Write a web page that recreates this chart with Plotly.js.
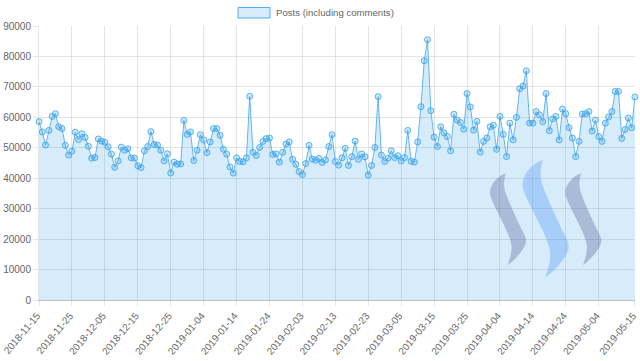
<!DOCTYPE html>
<html>
<head>
<meta charset="utf-8">
<script src="https://cdn.plot.ly/plotly-3.0.1.min.js"></script>
<style>html,body{margin:0;padding:0;background:#fff}#chart{width:640px;height:361px}</style>
</head>
<body>
<div id="chart"></div>
<script>
const seriesName = 'Posts (including comments)';
const startDate = '2018-11-15';
const endPad = '2019-05-15 00:20';
const posts = [
58600,55200,50900,55700,60300,61200,56900,56300,50800,47600,
48900,55100,52700,54600,53400,50500,46600,46800,52900,52200,
51800,50300,47900,43600,45700,50200,49200,49700,46700,46600,
44100,43500,49000,50400,55300,51100,50900,49200,45700,48000,
41700,45300,44600,44700,59000,54400,55200,45800,49200,54300,
52600,48400,51900,56300,56300,54100,49500,47900,43700,41700,
46700,45500,45400,46700,66900,48500,47500,50100,52100,53000,
53200,47800,48000,45300,48500,51200,51900,46200,44600,42200,
41200,44800,50800,46300,45900,46500,45200,46000,50400,54300,
45500,44300,46700,49800,44200,47100,52200,46200,48000,47000,
41000,44200,50100,66800,47600,45500,46600,49000,46800,47400,
45700,46800,55700,45600,45300,51900,63500,78600,85500,62200,
53500,50400,56900,54900,53700,49000,61000,59100,58300,56100,
67800,63400,55800,58700,48600,52100,53200,56900,57400,49500,
60300,54400,47100,58100,52600,60000,69400,70300,75300,58100,
58100,61900,60800,58600,67800,55600,59500,60300,52600,62700,
61200,56600,53200,47100,52100,61100,61200,61900,55500,59100,
53700,52100,58100,60100,61900,68500,68500,53100,56000,59800,
56600,66700];
const xTicks = ['2018-11-15','2018-11-25','2018-12-05','2018-12-15','2018-12-25','2019-01-04','2019-01-14','2019-01-24','2019-02-03','2019-02-13','2019-02-23','2019-03-05','2019-03-15','2019-03-25','2019-04-04','2019-04-14','2019-04-24','2019-05-04','2019-05-15'];
const yTicks = [0,10000,20000,30000,40000,50000,60000,70000,80000,90000];

const W = 640, H = 361, L = 39, R = 5, T = 26, B = 61;
const PW = W - L - R, PH = H - T - B;
const px = x => (x - L) / PW;
const py = y => (H - B - y) / PH;

const logoOutline = [
  ['M',505.7,173.3],
  ['C',504,180, 503.5,184, 505,191],
  ['C',508,200, 516,218, 522,230],
  ['C',525,236, 526,238, 526,241],
  ['C',526,248, 516,259, 507.7,265.3],
  ['C',510,258, 512,252, 511.5,246],
  ['C',511,239, 506,229, 502,221],
  ['C',497,210, 490,199, 490,193],
  ['C',490,184, 498,176, 505.7,173.3]
];
function logoPath(dx, dy, s) {
  return logoOutline.map(seg => {
    const c = [seg[0]];
    for (let i = 1; i < seg.length; i += 2) {
      const ox = 505 + (seg[i] - 505) * s + dx;
      const oy = 173 + (seg[i + 1] - 173) * s + dy;
      c.push(px(ox).toFixed(5) + ',' + py(oy).toFixed(5));
    }
    return c[0] + ' ' + c.slice(1).join(' ');
  }).join(' ') + ' Z';
}

const trace = {
  type: 'scatter', mode: 'lines+markers', name: seriesName,
  x0: startDate, dx: 86400000, y: posts,
  fill: 'tozeroy', fillcolor: 'rgba(54,162,235,0.2)',
  line: {color: 'rgba(54,162,235,0.75)', width: 1},
  marker: {size: 6, color: 'rgba(54,162,235,0.25)', line: {color: 'rgba(54,162,235,0.8)', width: 1}},
  cliponaxis: false, showlegend: false, hoverinfo: 'x+y'
};

const gridC = 'rgba(0,0,0,0.1)';
const layout = {
  width: W, height: H,
  margin: {l: L, r: R, t: T, b: B, pad: 0},
  paper_bgcolor: '#fff', plot_bgcolor: '#fff',
  font: {family: '"Liberation Sans", Arial, sans-serif', size: 10, color: '#666'},
  showlegend: false,
  xaxis: {
    type: 'date', range: [xTicks[0], endPad],
    tickmode: 'array', tickvals: xTicks, ticktext: xTicks, tickangle: -50,
    ticklabelshift: -2,
    showgrid: true, gridcolor: gridC, gridwidth: 1, zeroline: false,
    ticks: 'outside', ticklen: 5, tickcolor: gridC, tickfont: {size: 10, color: '#666'},
    showline: true, linecolor: 'rgba(0,0,0,0.25)', linewidth: 1
  },
  yaxis: {
    range: [0, 90000], tickmode: 'array', tickvals: yTicks,
    ticktext: yTicks.map(String),
    showgrid: true, gridcolor: gridC, gridwidth: 1, zeroline: false,
    ticks: 'outside', ticklen: 5, tickcolor: gridC, tickfont: {size: 10, color: '#666'},
    showline: true, linecolor: 'rgba(0,0,0,0.1)', linewidth: 1
  },
  shapes: [
    {type: 'rect', xref: 'paper', yref: 'paper', x0: px(238), x1: px(270), y0: py(18), y1: py(7.5),
     fillcolor: 'rgba(54,162,235,0.2)', line: {color: 'rgba(54,162,235,0.85)', width: 1}},
    {type: 'path', xref: 'paper', yref: 'paper', layer: 'above', path: logoPath(0, 0, 1),
     fillcolor: 'rgba(90,100,150,0.36)', line: {width: 0}},
    {type: 'path', xref: 'paper', yref: 'paper', layer: 'above', path: logoPath(36.8, -13.4, 1.28),
     fillcolor: 'rgba(80,150,245,0.35)', line: {width: 0}},
    {type: 'path', xref: 'paper', yref: 'paper', layer: 'above', path: logoPath(75.3, 0, 1),
     fillcolor: 'rgba(90,100,150,0.36)', line: {width: 0}}
  ],
  annotations: [
    {xref: 'paper', yref: 'paper', x: px(273.5), y: py(12.5), xanchor: 'left', yanchor: 'middle',
     text: seriesName, showarrow: false, font: {size: 9.6, color: '#666'}}
  ]
};
Plotly.newPlot('chart', [trace], layout, {displayModeBar: false, staticPlot: true});
</script>
</body>
</html>
